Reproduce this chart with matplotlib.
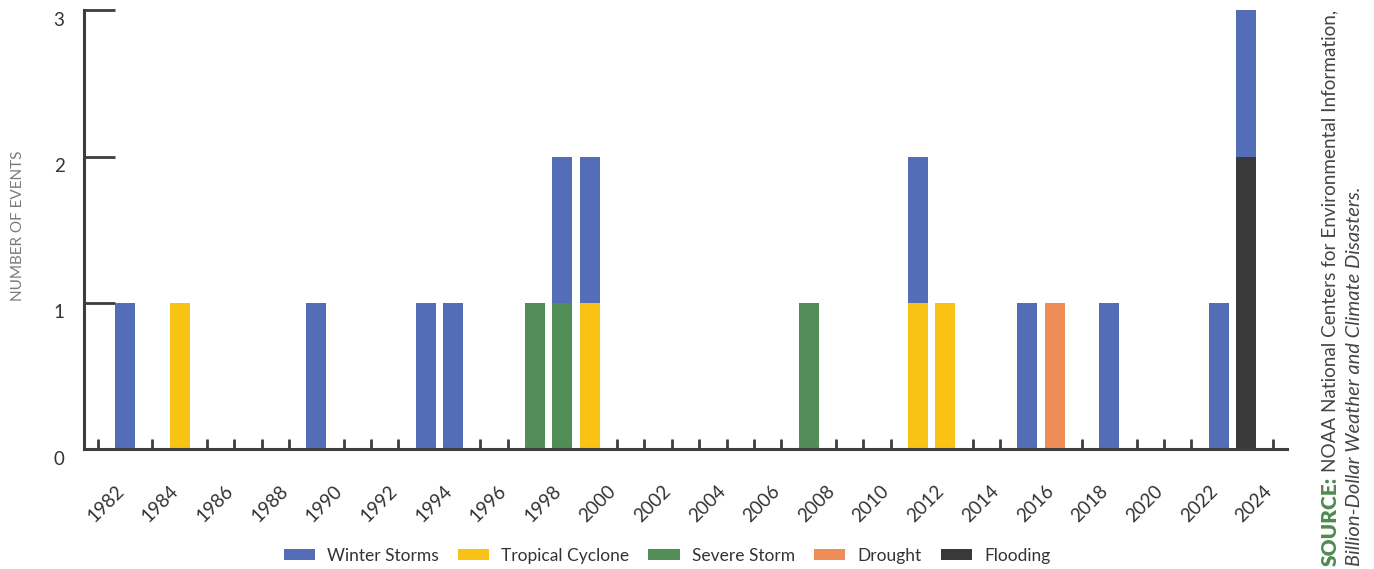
import matplotlib
matplotlib.use("Agg")
import matplotlib.pyplot as plt
import matplotlib.transforms as mtransforms
import numpy as np

plt.rcParams["font.family"] = ["Lato", "DejaVu Sans"]

years = list(range(1981, 2025))
label_years = list(range(1982, 2025, 2))

# events per year by type
winter = {1982: 1, 1989: 1, 1993: 1, 1994: 1, 1998: 1, 1999: 1, 2011: 1,
          2015: 1, 2018: 1, 2022: 1, 2023: 1}
tropical = {1984: 1, 1999: 1, 2011: 1, 2012: 1}
severe = {1997: 1, 1998: 1, 2007: 1}
drought = {2016: 1}
flooding = {2023: 2}

series = [
    ("Flooding", flooding, "#383a3a"),
    ("Drought", drought, "#ef8d58"),
    ("Severe Storm", severe, "#528d57"),
    ("Tropical Cyclone", tropical, "#f8c315"),
    ("Winter Storms", winter, "#536db6"),
]
legend_order = ["Winter Storms", "Tropical Cyclone", "Severe Storm", "Drought", "Flooding"]

W, H = 1374, 569
fig = plt.figure(figsize=(W / 100, H / 100), dpi=100)
ax = fig.add_axes([84 / W, 1 - 449.3 / H, (1287 - 84) / W, (449.3 - 10.3) / H])

x = np.array(years)
bottom = np.zeros(len(years))
handles = {}
for name, d, color in series:
    vals = np.array([d.get(y, 0) for y in years], dtype=float)
    b = ax.bar(x, vals, width=0.73, bottom=bottom, color=color, label=name, zorder=3)
    handles[name] = b
    bottom += vals

ax.set_xlim(1980.5, 2024.5)
ax.set_ylim(0, 3)

axis_col = "#3d3d3d"
for s in ["top", "right"]:
    ax.spines[s].set_visible(False)
for s in ["left", "bottom"]:
    ax.spines[s].set_color(axis_col)
    ax.spines[s].set_linewidth(2.2)
    ax.spines[s].set_zorder(4)

ax.set_xticks(years)
ax.set_xticklabels([str(y) if y in label_years else "" for y in years],
                   rotation=45, ha="right", va="center", rotation_mode="anchor",
                   fontsize=13.5, color="#333333")
ax.tick_params(axis="x", direction="in", length=7.5, width=2, color=axis_col, pad=28)
for t in ax.xaxis.get_major_ticks():
    t.tick1line.set_zorder(2)
shift_x = mtransforms.ScaledTranslation(-4 / 100, 0, fig.dpi_scale_trans)
for lab in ax.get_xticklabels():
    lab.set_transform(lab.get_transform() + shift_x)

ax.set_yticks([0, 1, 2, 3])
ax.set_yticklabels(["0", "1", "2", "3"], fontsize=13.5, color="#333333", va="center")
ax.tick_params(axis="y", direction="in", length=22, width=2, color=axis_col, pad=14)
shift_y = mtransforms.ScaledTranslation(0, -10 / 100, fig.dpi_scale_trans)
for lab in ax.get_yticklabels():
    lab.set_transform(lab.get_transform() + shift_y)

fig.text(18 / W, 1 - 226 / H, "NUMBER OF EVENTS", rotation=90, ha="center", va="center",
         fontsize=11, color="#7a7a7a")

leg = fig.legend([handles[n] for n in legend_order], legend_order, loc="center",
                 bbox_to_anchor=(667 / W, 1 - 556 / H), ncol=5, frameon=False,
                 fontsize=12.5, handlelength=1.8, handleheight=0.58, columnspacing=1.1,
                 handletextpad=0.7)
for t in leg.get_texts():
    t.set_color("#333333")

# source text, rotated
t1 = fig.text(1330 / W, 1 - 566 / H, "SOURCE:", rotation=90, ha="center", va="bottom",
              fontsize=15, fontweight="heavy", color="#4e8b4f")
fig.canvas.draw()
bb = t1.get_window_extent(fig.canvas.get_renderer())
fig.text(1330 / W, (bb.y1 + 5) / H, "NOAA National Centers for Environmental Information,",
         rotation=90, ha="center", va="bottom", fontsize=13.6, color="#444444")
fig.text(1355 / W, 1 - 566 / H, "Billion-Dollar Weather and Climate Disasters.",
         rotation=90, ha="center", va="bottom", fontsize=14.5, color="#444444",
         fontstyle="italic")

fig.savefig("out.png", dpi=100)
